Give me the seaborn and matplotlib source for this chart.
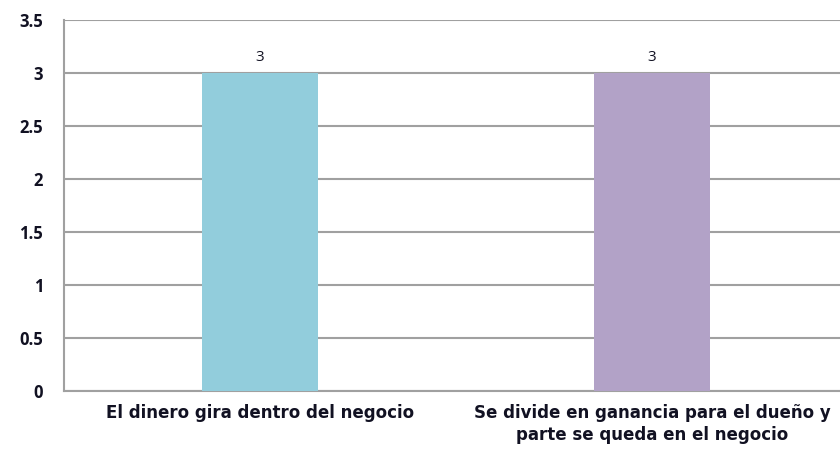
import matplotlib
matplotlib.use("Agg")
import matplotlib.pyplot as plt
import seaborn as sns
import pandas as pd

categories = ["El dinero gira dentro del negocio",
              "Se divide en ganancia para el dueño y\nparte se queda en el negocio"]
values = [3, 3]
colors = ["#92CDDC", "#B2A2C7"]
yticks = [0, 0.5, 1, 1.5, 2, 2.5, 3, 3.5]
ytick_labels = ["0", "0.5", "1", "1.5", "2", "2.5", "3", "3.5"]

sns.set_theme(style="white")
plt.rcParams['font.family'] = ['Open Sans', 'DejaVu Sans']

df = pd.DataFrame({"cat": categories, "val": values})

fig = plt.figure(figsize=(8.4, 4.51), dpi=100)
ax = fig.add_axes([64/840, (451-391)/451, (840-64)/840, (391-20)/451])
sns.barplot(data=df, x="cat", y="val", hue="cat", palette=colors, width=0.295,
            legend=False, ax=ax, saturation=1, zorder=3, linewidth=0)

ax.set_ylim(0, 3.5)
ax.set_xlim(-0.5, 1.48)
ax.set_yticks(yticks)
ax.set_yticklabels(ytick_labels, fontsize=12, fontweight="bold", color="#111122")
ax.set_xticks(range(len(categories)))
ax.set_xticklabels(categories, fontsize=12, fontweight="bold", color="#111122",
                   linespacing=1.35, family=['DejaVu Sans'])
ax.tick_params(axis="y", length=0, pad=15)
ax.tick_params(axis="x", length=0, pad=9)
ax.set_xlabel("")
ax.set_ylabel("")
ax.yaxis.grid(True, color="#A0A0A0", linewidth=1.5, zorder=0)
ax.set_axisbelow(True)
for s in ["left", "bottom"]:
    ax.spines[s].set_color("#A0A0A0")
    ax.spines[s].set_linewidth(1.5)
ax.spines["top"].set_visible(False)
ax.spines["right"].set_visible(False)

for i, v in enumerate(values):
    ax.annotate(f"{v}", (i, v), xytext=(0, 6), textcoords="offset points",
                ha="center", va="bottom", fontsize=11, color="#111122")

fig.savefig("out.png", dpi=100)
